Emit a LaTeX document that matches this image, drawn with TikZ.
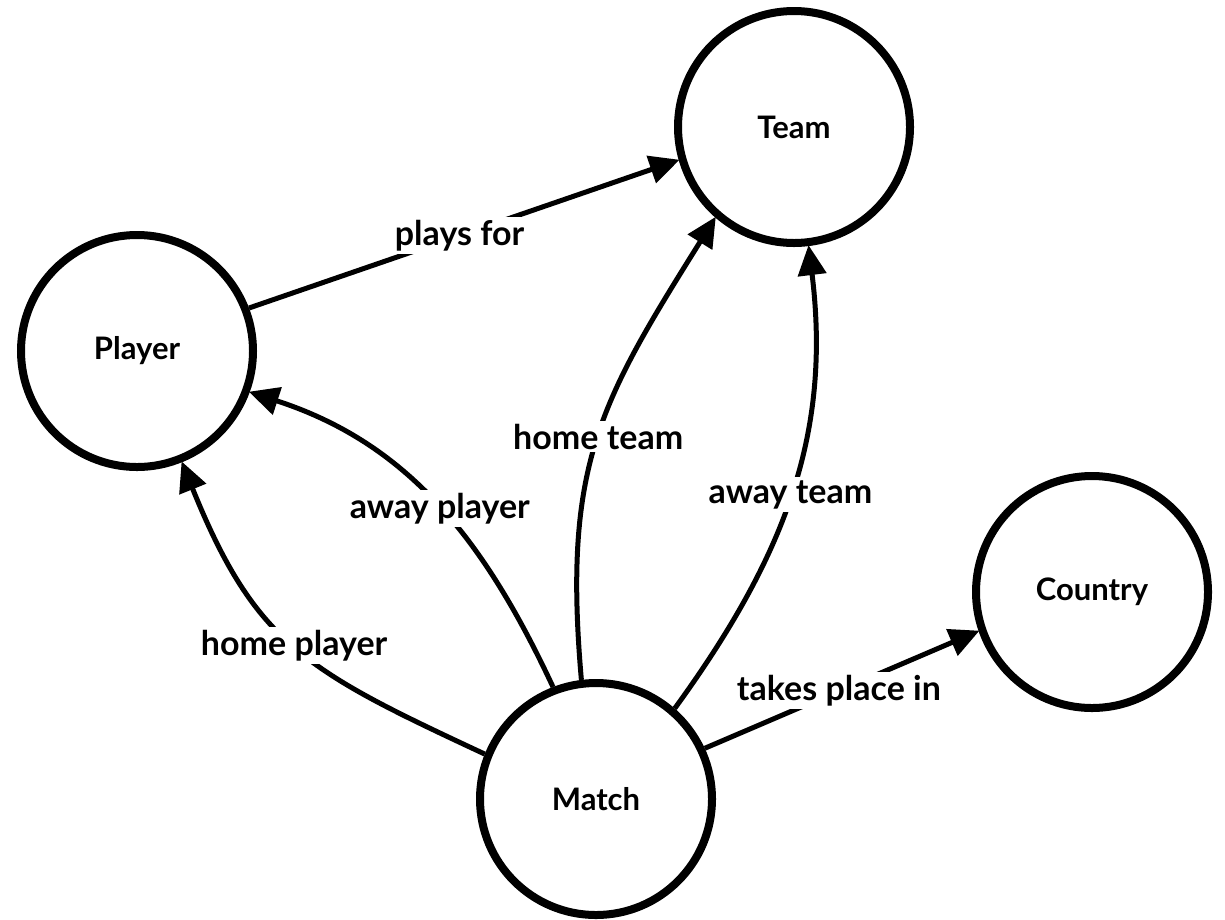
\documentclass[tikz,border=0pt]{standalone}
\usepackage{fontspec}
\setmainfont{Lato}
\usetikzlibrary{arrows.meta}
\tikzset{
  entity/.style={circle, draw=black, line width=8pt, minimum size=232pt, inner sep=0pt,
                 font=\fontsize{31}{36}\selectfont\bfseries},
  rel/.style={line width=5pt, -{Triangle[length=30pt,width=28pt]}, shorten >=-1pt},
  lbl/.style={fill=white, inner sep=3pt, font=\fontsize{34}{40}\selectfont\bfseries},
}
\begin{document}
\begin{tikzpicture}[x=1pt, y=-1pt]
  \useasboundingbox[fill=white] (0,0) rectangle (1225,919);

  % entities
  \node[entity] (team)    at (794,127)  {Team};
  \node[entity] (player)  at (137,351)  {Player};
  \node[entity] (match)   at (596,799)  {Match};
  \node[entity] (country) at (1092,592) {Country};

  % relationships
  \draw[rel] (player.21) -- node[lbl, pos=0.49] {plays for} (team.196);
  \draw[rel] (match.158) to[out=155, in=-68, looseness=1.2] node[lbl, pos=0.5] {home player} (player.-68);
  \draw[rel] (match.111) to[out=115, in=-18] node[lbl, pos=0.48] {away player} (player.-20);
  \draw[rel] (match.97)  to[out=95, in=-122, looseness=1.15] node[lbl, pos=0.5] {home team} (team.229);
  \draw[rel] (match.49)  to[out=54, in=-83]  node[lbl, pos=0.49] {away team} (team.277);
  \draw[rel] (match.25) -- node[lbl, pos=0.49] {takes place in} (country.199);
\end{tikzpicture}
\end{document}
